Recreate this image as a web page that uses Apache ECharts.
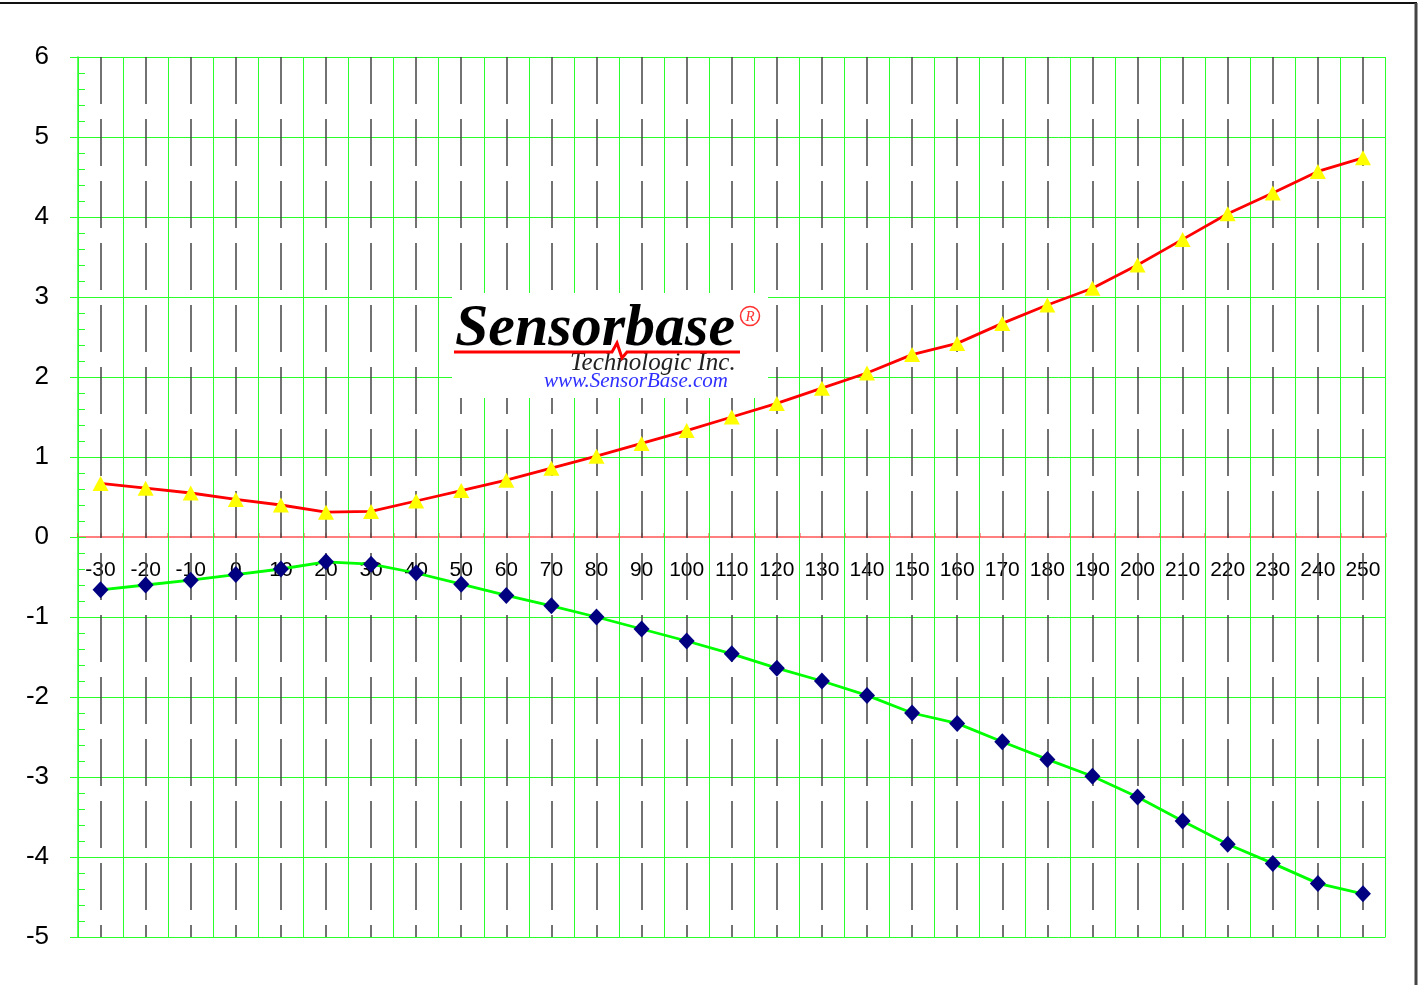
<!DOCTYPE html>
<html>
<head>
<meta charset="utf-8">
<script src="https://cdn.jsdelivr.net/npm/echarts@6/dist/echarts.min.js"></script>
<style>html,body{margin:0;padding:0;background:#fff;}#c{width:1424px;height:985px;}</style>
</head>
<body>
<div id="c"></div>
<script>
const categories = ['-30','-20','-10','0','10','20','30','40','50','60','70','80','90','100','110','120','130','140','150','160','170','180','190','200','210','220','230','240','250'];
const upperValues = [0.67,0.61,0.55,0.47,0.40,0.31,0.32,0.45,0.58,0.71,0.86,1.01,1.17,1.33,1.50,1.67,1.86,2.05,2.28,2.42,2.67,2.90,3.11,3.40,3.72,4.04,4.30,4.57,4.74];
const lowerValues = [-0.66,-0.60,-0.54,-0.47,-0.40,-0.31,-0.34,-0.45,-0.59,-0.73,-0.86,-1.00,-1.15,-1.30,-1.46,-1.64,-1.80,-1.98,-2.20,-2.33,-2.56,-2.78,-2.99,-3.25,-3.55,-3.84,-4.08,-4.33,-4.46];
const yTicks = [-5,-4,-3,-2,-1,0,1,2,3,4,5,6];
const yMin = yTicks[0], yMax = yTicks[yTicks.length - 1], yStep = 1;
const xStep = 10;
const xMin = Number(categories[0]) - xStep / 2;
const xMax = Number(categories[categories.length - 1]) + xStep / 2;
const xBoundaries = [xMin].concat(categories.map(c => Number(c) + xStep / 2));

const gridTop = 57, gridBottom = 48, H = 985;
const gridH = H - gridTop - gridBottom;
const zeroOffset = -gridH * (0 - yMin) / (yMax - yMin);

const chart = echarts.init(document.getElementById('c'), null, {renderer: 'canvas'});
const green = '#2bff2b';
const red = 'rgba(255,40,40,0.6)';
const font = 'Liberation Sans, Arial, sans-serif';
const serif = 'Liberation Serif, Times New Roman, serif';

const option = {
  animation: false,
  backgroundColor: '#ffffff',
  grid: {left: 78, right: 38.5, top: gridTop, bottom: gridBottom, containLabel: false},
  xAxis: [{
    type: 'category', data: categories, boundaryGap: true, position: 'bottom', offset: zeroOffset,
    axisLine: {show: false, onZero: false},
    axisTick: {show: false},
    axisLabel: {show: true, interval: 0, fontSize: 21, color: '#000', fontFamily: font, margin: 23},
    splitLine: {show: false}
  }, {
    type: 'value', min: xMin, max: xMax, interval: xStep / 2, position: 'bottom', offset: zeroOffset,
    axisLine: {show: true, onZero: false, lineStyle: {color: red, width: 2}},
    axisTick: {show: true, inside: true, length: 4, lineStyle: {color: red, width: 1.5}},
    axisLabel: {show: false},
    splitLine: {show: false}
  }],
  yAxis: [{
    type: 'value', min: yMin, max: yMax, interval: yStep, position: 'left',
    axisLine: {show: true, onZero: false, lineStyle: {color: green, width: 1.5}},
    axisTick: {show: true, inside: false, length: 8, lineStyle: {color: green, width: 1}},
    axisLabel: {fontSize: 26, color: '#000', fontFamily: font, margin: 29},
    splitLine: {show: false}
  }, {
    type: 'value', min: yMin, max: yMax, interval: yStep, position: 'left', offset: 0,
    axisLine: {show: false, onZero: false},
    axisTick: {show: true, inside: true, length: 8, lineStyle: {color: green, width: 1}},
    minorTick: {show: true, splitNumber: 5, length: 7, lineStyle: {color: green, width: 1}},
    axisLabel: {show: false},
    splitLine: {show: false}
  }],
  series: [{
    type: 'line', data: [], z: 1, silent: true, xAxisIndex: 1, yAxisIndex: 0,
    markLine: {
      silent: true, symbol: ['none', 'none'], label: {show: false},
      lineStyle: {color: green, width: 1, type: 'solid'},
      emphasis: {disabled: true},
      data: xBoundaries.map(v => ({xAxis: v})).concat(yTicks.filter(v => v !== 0).map(v => ({yAxis: v})))
    }
  }, {
    type: 'line', data: [], z: 2, silent: true, xAxisIndex: 1, yAxisIndex: 0,
    markLine: {
      silent: true, symbol: ['none', 'none'], label: {show: false},
      lineStyle: {color: '#444', width: 1.5, type: [47, 15]},
      emphasis: {disabled: true},
      data: categories.map(c => [{coord: [Number(c), yMax]}, {coord: [Number(c), yMin]}])
    }
  }, {
    name: 'upper', type: 'line', data: upperValues, z: 5, xAxisIndex: 0, yAxisIndex: 0,
    lineStyle: {color: '#ff0000', width: 2.8},
    symbol: 'triangle', symbolSize: [16, 15],
    itemStyle: {color: '#ffff00', borderWidth: 0},
    emphasis: {disabled: true}
  }, {
    name: 'lower', type: 'line', data: lowerValues, z: 5, xAxisIndex: 0, yAxisIndex: 0,
    lineStyle: {color: '#00ff00', width: 2.8},
    symbol: 'diamond', symbolSize: [16, 17],
    itemStyle: {color: '#000080', borderWidth: 0},
    emphasis: {disabled: true}
  }],
  graphic: [
    {type: 'rect', z: 100, shape: {x: -10, y: 3, width: 1426, height: 1000}, style: {fill: 'none', stroke: '#111', lineWidth: 2}},
    {type: 'line', z: 100, shape: {x1: 1416, y1: 3, x2: 1416, y2: 990}, style: {stroke: '#444', lineWidth: 3}},
    {type: 'rect', z: 50, shape: {x: 452, y: 293, width: 316, height: 105}, style: {fill: '#ffffff'}},
    {type: 'text', z: 51, x: 455, y: 329, style: {text: 'Sensorbase', font: 'italic bold 60px ' + serif, fill: '#000', verticalAlign: 'middle'}},
    {type: 'polyline', z: 52, shape: {points: [[454, 352], [612, 352], [617, 343], [622, 358], [627, 352], [740, 352]]}, style: {stroke: '#ff0000', lineWidth: 3, fill: 'none'}},
    {type: 'circle', z: 51, shape: {cx: 750, cy: 316, r: 9.5}, style: {fill: 'none', stroke: '#ff3030', lineWidth: 1.5}},
    {type: 'text', z: 51, x: 750, y: 317, style: {text: 'R', font: 'italic 15px ' + serif, fill: '#ff3030', align: 'center', verticalAlign: 'middle'}},
    {type: 'text', z: 51, x: 570, y: 363.5, style: {text: 'Technologic Inc.', font: 'italic 25px ' + serif, fill: '#222', verticalAlign: 'middle'}},
    {type: 'text', z: 51, x: 544, y: 381, style: {text: 'www.SensorBase.com', font: 'italic 21px ' + serif, fill: '#2f2fff', verticalAlign: 'middle'}}
  ]
};
chart.setOption(option);
</script>
</body>
</html>
